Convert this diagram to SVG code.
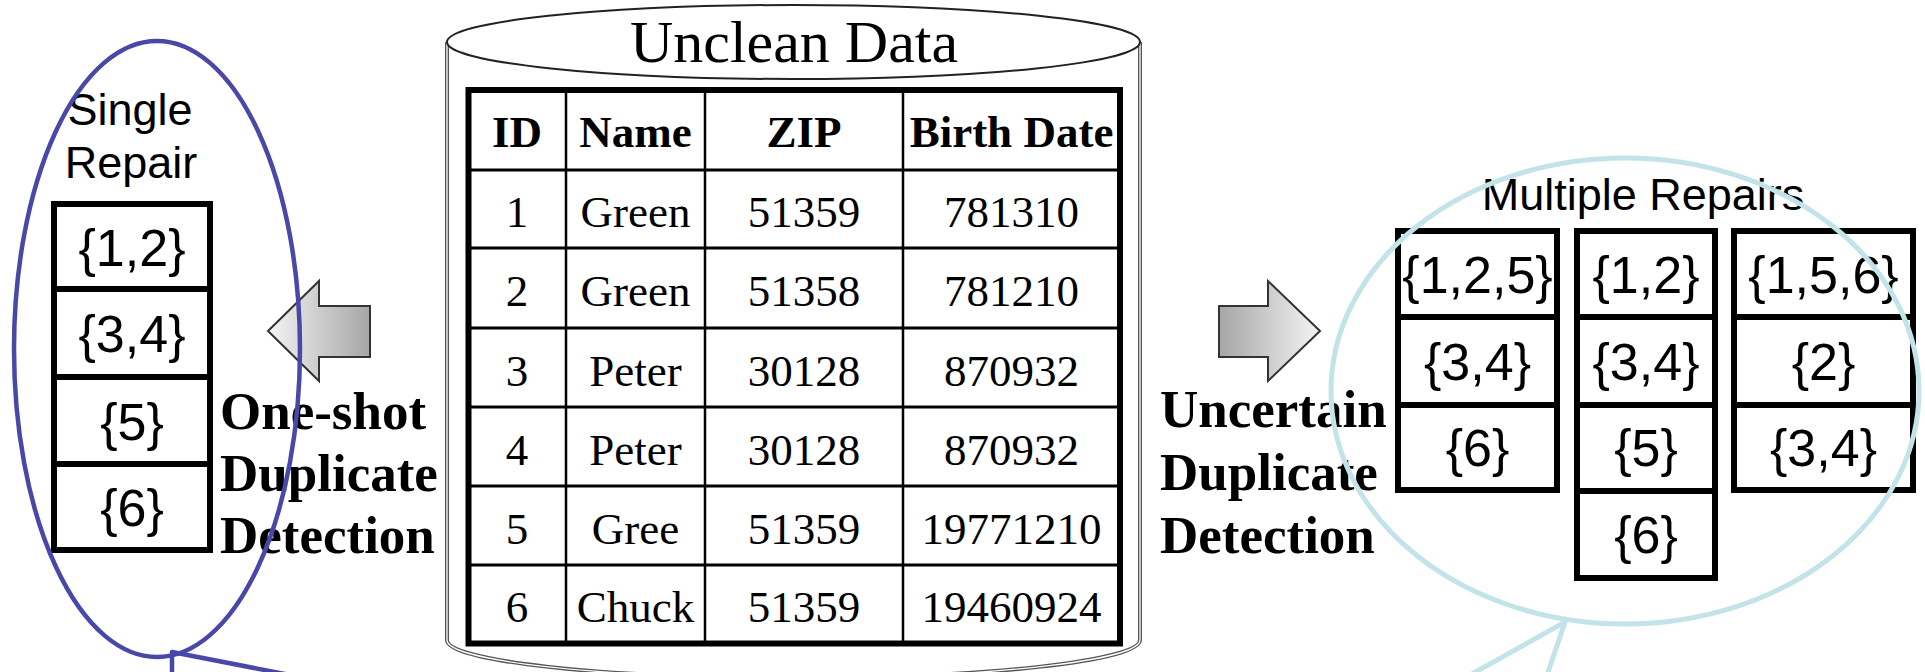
<svg xmlns="http://www.w3.org/2000/svg" width="1925" height="672" viewBox="0 0 1925 672">
  <style>
    .serif { font-family: "Liberation Serif", "Times New Roman", serif; fill: #000; }
    .bold { font-weight: bold; }
    .sans { font-family: "Liberation Sans", Arial, sans-serif; fill: #000; }
    .cell { fill: #fff; stroke: #000; stroke-width: 6; }
    .grid { stroke: #000; stroke-width: 2.5; fill: none; }
    .rowline { stroke: #000; stroke-width: 3; fill: none; }
    .arrow { stroke: #333; stroke-width: 2; }
    .hdr { font-size: 45px; text-anchor: middle; }
    .dat { font-size: 45px; text-anchor: middle; }
    .set { font-size: 52px; text-anchor: middle; }
    .lbl { font-size: 53px; }
  </style>
  <defs>
    <linearGradient id="gradLeft" x1="0" y1="0" x2="1" y2="0">
      <stop offset="0" stop-color="#f4f4f4"/>
      <stop offset="1" stop-color="#a6a6a6"/>
    </linearGradient>
    <linearGradient id="gradRight" x1="0" y1="0" x2="1" y2="0">
      <stop offset="0" stop-color="#a6a6a6"/>
      <stop offset="1" stop-color="#f4f4f4"/>
    </linearGradient>
  </defs>

  <rect width="1925" height="672" fill="#fff"/>

  <!-- Database cylinder with the unclean table -->
  <g id="unclean-data">
    <path d="M447,42 L447,640 A346.5,38 0 0 0 1140,640 L1140,42" fill="#fff" stroke="#555" stroke-width="4"/>
    <path d="M447,42 L447,640 A346.5,38 0 0 0 1140,640 L1140,42" fill="none" stroke="#fff" stroke-width="1.3"/>
    <ellipse cx="793.5" cy="42" rx="346.5" ry="37" fill="#fff" stroke="#222" stroke-width="2"/>
    <text class="serif" x="794" y="62" font-size="60" text-anchor="middle">Unclean Data</text>

    <rect x="468.5" y="90" width="651.5" height="553.5" fill="#fff" stroke="#000" stroke-width="6"/>
    <path class="rowline" d="M468,170 H1120 M468,248 H1120 M468,328 H1120 M468,407 H1120 M468,486 H1120 M468,565 H1120"/>
    <path class="grid" d="M566,90 V643 M705,90 V643 M903,90 V643"/>

    <g class="serif bold hdr">
      <text x="517" y="147">ID</text>
      <text x="635.5" y="147">Name</text>
      <text x="804" y="147">ZIP</text>
      <text x="1011.5" y="147">Birth Date</text>
    </g>
    <g class="serif dat">
      <text x="517" y="227">1</text>
      <text x="635.5" y="227">Green</text>
      <text x="804" y="227">51359</text>
      <text x="1011.5" y="227">781310</text>

      <text x="517" y="306">2</text>
      <text x="635.5" y="306">Green</text>
      <text x="804" y="306">51358</text>
      <text x="1011.5" y="306">781210</text>

      <text x="517" y="385.5">3</text>
      <text x="635.5" y="385.5">Peter</text>
      <text x="804" y="385.5">30128</text>
      <text x="1011.5" y="385.5">870932</text>

      <text x="517" y="464.5">4</text>
      <text x="635.5" y="464.5">Peter</text>
      <text x="804" y="464.5">30128</text>
      <text x="1011.5" y="464.5">870932</text>

      <text x="517" y="543.5">5</text>
      <text x="635.5" y="543.5">Gree</text>
      <text x="804" y="543.5">51359</text>
      <text x="1011.5" y="543.5">19771210</text>

      <text x="517" y="622">6</text>
      <text x="635.5" y="622">Chuck</text>
      <text x="804" y="622">51359</text>
      <text x="1011.5" y="622">19460924</text>
    </g>
  </g>

  <!-- One-shot detection: single repair -->
  <g id="single-repair">
    <text class="sans" x="130" y="125" font-size="45" text-anchor="middle">Single</text>
    <text class="sans" x="131" y="178" font-size="45" text-anchor="middle">Repair</text>
    <rect class="cell" x="54" y="204" width="156" height="85"/>
    <rect class="cell" x="54" y="289" width="156" height="88"/>
    <rect class="cell" x="54" y="377" width="156" height="87"/>
    <rect class="cell" x="54" y="464" width="156" height="86"/>
    <g class="sans set">
      <text x="132" y="265.5">{1,2}</text>
      <text x="132" y="352">{3,4}</text>
      <text x="132" y="439.5">{5}</text>
      <text x="132" y="526">{6}</text>
    </g>
  </g>

  <!-- Uncertain detection: multiple repairs -->
  <g id="multiple-repairs">
    <text class="sans" x="1643" y="210" font-size="45" text-anchor="middle">Multiple Repairs</text>

    <rect class="cell" x="1398" y="231" width="159" height="86"/>
    <rect class="cell" x="1398" y="317" width="159" height="88"/>
    <rect class="cell" x="1398" y="405" width="159" height="85"/>

    <rect class="cell" x="1577" y="231" width="138" height="86"/>
    <rect class="cell" x="1577" y="317" width="138" height="88"/>
    <rect class="cell" x="1577" y="405" width="138" height="86"/>
    <rect class="cell" x="1577" y="491" width="138" height="87"/>

    <rect class="cell" x="1734" y="231" width="179" height="86"/>
    <rect class="cell" x="1734" y="317" width="179" height="88"/>
    <rect class="cell" x="1734" y="405" width="179" height="85"/>

    <g class="sans set">
      <text x="1477.5" y="293">{1,2,5}</text>
      <text x="1477.5" y="380">{3,4}</text>
      <text x="1477.5" y="466">{6}</text>

      <text x="1646" y="293">{1,2}</text>
      <text x="1646" y="380">{3,4}</text>
      <text x="1646" y="466">{5}</text>
      <text x="1646" y="553">{6}</text>

      <text x="1823.5" y="293">{1,5,6}</text>
      <text x="1823.5" y="380">{2}</text>
      <text x="1823.5" y="466">{3,4}</text>
    </g>
  </g>

  <!-- Process arrows and their labels -->
  <g id="one-shot-detection">
    <path class="arrow" fill="url(#gradLeft)" d="M268,331 L319,281 L319,306 L370,306 L370,357 L319,357 L319,381 Z"/>
    <g class="serif bold lbl">
      <text x="220" y="429">One-shot</text>
      <text x="220" y="491">Duplicate</text>
      <text x="220" y="553">Detection</text>
    </g>
  </g>

  <g id="uncertain-detection">
    <path class="arrow" fill="url(#gradRight)" d="M1320,331 L1268,281 L1268,306 L1219,306 L1219,357 L1268,357 L1268,381 Z"/>
    <g class="serif bold lbl">
      <text x="1160" y="427">Uncertain</text>
      <text x="1160" y="490">Duplicate</text>
      <text x="1160" y="553">Detection</text>
    </g>
  </g>

  <!-- Callout outlines -->
  <g id="connectors" fill="none" stroke-linejoin="round">
    <g stroke="#4848A8" stroke-width="4.5">
      <ellipse cx="157" cy="349" rx="143" ry="308"/>
      <path d="M172,690 L172,652 L326,682"/>
    </g>
    <g stroke="#C2E4E8" stroke-width="5">
      <ellipse cx="1625" cy="391" rx="294" ry="233"/>
      <path d="M1544,684 L1565,622 L1454,684"/>
    </g>
  </g>
</svg>
